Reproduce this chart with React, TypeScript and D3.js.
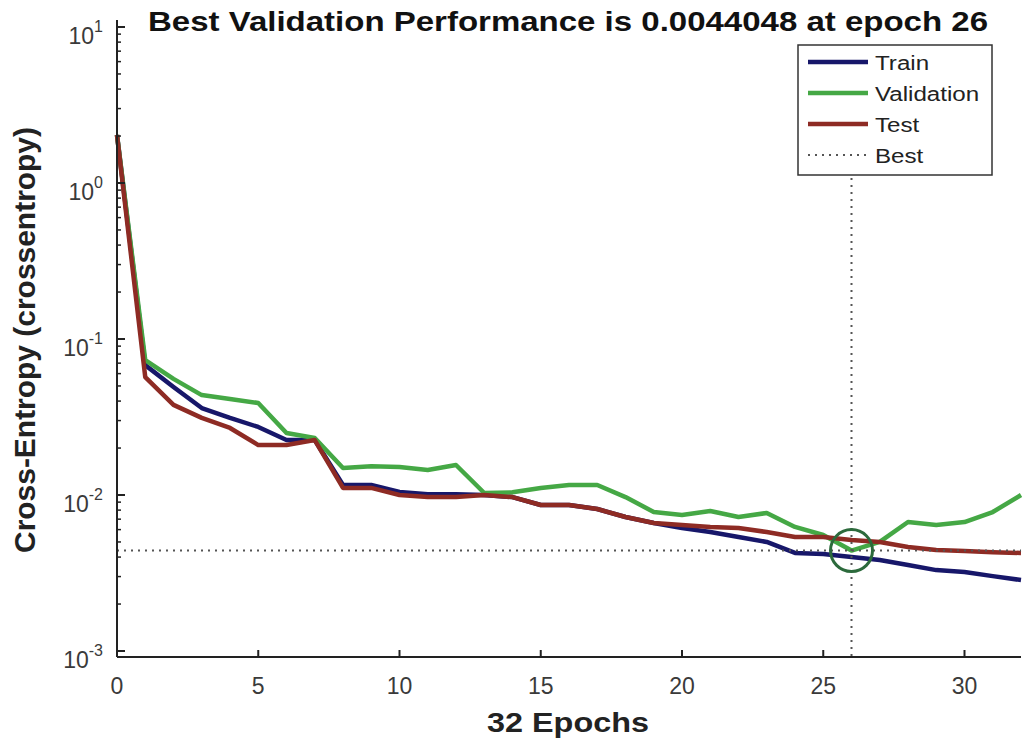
import React from "react";
import * as d3 from "d3";

const epochs = d3.range(0, 33);
const trainLoss = [2.03, 0.068, 0.0492, 0.0361, 0.0312, 0.0273, 0.0225, 0.0225, 0.0116, 0.0116, 0.01045, 0.0101, 0.0101, 0.01, 0.0097, 0.00863, 0.00863, 0.00813, 0.00723, 0.00662, 0.00614, 0.00579, 0.00538, 0.005, 0.00425, 0.00418, 0.00401, 0.00383, 0.00356, 0.0033, 0.00321, 0.00302, 0.00285];
const validationLoss = [2.03, 0.0733, 0.0555, 0.0437, 0.0412, 0.0389, 0.025, 0.0232, 0.0149, 0.0153, 0.0151, 0.01446, 0.01557, 0.0103, 0.0104, 0.0111, 0.0116, 0.0116, 0.0097, 0.00778, 0.00745, 0.00789, 0.00723, 0.00767, 0.00624, 0.00554, 0.0044048, 0.005, 0.00671, 0.00642, 0.00671, 0.00778, 0.01];
const testLoss = [2.03, 0.057, 0.0378, 0.0312, 0.0269, 0.0209, 0.0209, 0.0225, 0.0111, 0.0111, 0.01, 0.0097, 0.0097, 0.01, 0.0097, 0.00863, 0.00863, 0.00813, 0.00723, 0.00662, 0.00642, 0.00624, 0.00614, 0.00579, 0.00538, 0.00538, 0.00515, 0.005, 0.00464, 0.00444, 0.00437, 0.0043, 0.00425];
const bestEpoch = 26;
const bestValue = 0.0044048;
const xTicks = [0, 5, 10, 15, 20, 25, 30];
const yExponents = [-3, -2, -1, 0, 1];
const legendLabels = ["Train", "Validation", "Test", "Best"];

const FONT = "'Liberation Sans', Arial, sans-serif";
const C_TRAIN = "#17176a";
const C_VAL = "#45a845";
const C_TEST = "#8e2b24";
const C_BEST = "#2c6a3c";

export default function App() {
  const W = 1025, H = 745;
  const x = d3.scaleLinear().domain([0, 32]).range([117, 1021]);
  const y = d3.scaleLog().domain([1e-3, 1e1]).range([651, 27]);
  const axTop = 20, axBottom = 657, axLeft = 117, axRight = 1021;

  const line = d3.line<number>().x((_, i) => x(epochs[i])).y((d) => y(d));

  const minor: number[] = [];
  for (let e = -3; e < 1; e++) for (let k = 2; k <= 9; k++) minor.push(k * Math.pow(10, e));

  const series = [
    { data: trainLoss, color: C_TRAIN },
    { data: validationLoss, color: C_VAL },
    { data: testLoss, color: C_TEST },
  ];
  const legendColors = [C_TRAIN, C_VAL, C_TEST];
  const legendY = [62, 93, 124, 155];

  return (
    <svg width={W} height={H} style={{ position: "absolute", left: 0, top: 0, background: "#fff" }} fontFamily={FONT}>
      <rect x={0} y={0} width={W} height={H} fill="#fff" />
      {series.map((s, i) => (
        <path key={i} d={line(s.data) || ""} fill="none" stroke={s.color} strokeWidth={4.5} strokeLinejoin="round" />
      ))}
      <line x1={axLeft} x2={axRight} y1={y(bestValue)} y2={y(bestValue)} stroke="#555" strokeWidth={2} strokeDasharray="2,5" />
      <line x1={x(bestEpoch)} x2={x(bestEpoch)} y1={45} y2={axBottom} stroke="#555" strokeWidth={2} strokeDasharray="2,5" />
      <circle cx={x(bestEpoch)} cy={y(bestValue)} r={21} fill="none" stroke={C_BEST} strokeWidth={3} />
      <line x1={axLeft} x2={axLeft} y1={axTop} y2={axBottom} stroke="#222" strokeWidth={2} />
      <line x1={axLeft} x2={axRight} y1={axBottom} y2={axBottom} stroke="#222" strokeWidth={2} />
      {xTicks.map((t) => (
        <g key={t}>
          <line x1={x(t)} x2={x(t)} y1={axBottom} y2={axBottom - 7} stroke="#222" strokeWidth={2} />
          <text x={x(t)} y={694} textAnchor="middle" fontSize={23} fill="#3a3a3a">{t}</text>
        </g>
      ))}
      {yExponents.map((e) => (
        <g key={e}>
          <line x1={axLeft} x2={axLeft + 8} y1={y(Math.pow(10, e))} y2={y(Math.pow(10, e))} stroke="#222" strokeWidth={2} />
          <text x={103} y={y(Math.pow(10, e)) + 17} textAnchor="end" fontSize={23} fill="#3a3a3a">
            <tspan>10</tspan>
            <tspan dy={-12} fontSize={16}>{e}</tspan>
          </text>
        </g>
      ))}
      {minor.map((m, i) => (
        <line key={i} x1={axLeft} x2={axLeft + 4} y1={y(m)} y2={y(m)} stroke="#222" strokeWidth={1.5} />
      ))}
      <text x={568} y={31} textAnchor="middle" fontSize={28} fontWeight="bold" fill="#111" textLength={840} lengthAdjust="spacingAndGlyphs">
        Best Validation Performance is 0.0044048 at epoch 26
      </text>
      <text x={568} y={732} textAnchor="middle" fontSize={28} fontWeight="bold" fill="#222" textLength={162} lengthAdjust="spacingAndGlyphs">
        32 Epochs
      </text>
      <text transform="translate(35,340) rotate(-90)" textAnchor="middle" fontSize={29} fontWeight="bold" fill="#222" textLength={426} lengthAdjust="spacingAndGlyphs">
        Cross-Entropy  (crossentropy)
      </text>
      <rect x={798} y={45} width={194} height={130} fill="#fff" stroke="#333" strokeWidth={1.5} />
      {legendLabels.map((lab, i) => (
        <g key={lab}>
          {i < 3 ? (
            <line x1={808} x2={868} y1={legendY[i]} y2={legendY[i]} stroke={legendColors[i]} strokeWidth={4.5} />
          ) : (
            <line x1={808} x2={868} y1={legendY[i]} y2={legendY[i]} stroke="#555" strokeWidth={2} strokeDasharray="2,5" />
          )}
          <text transform={`translate(875,${legendY[i] + 8}) scale(1.15,1)`} fontSize={21} fill="#222">{lab}</text>
        </g>
      ))}
    </svg>
  );
}
